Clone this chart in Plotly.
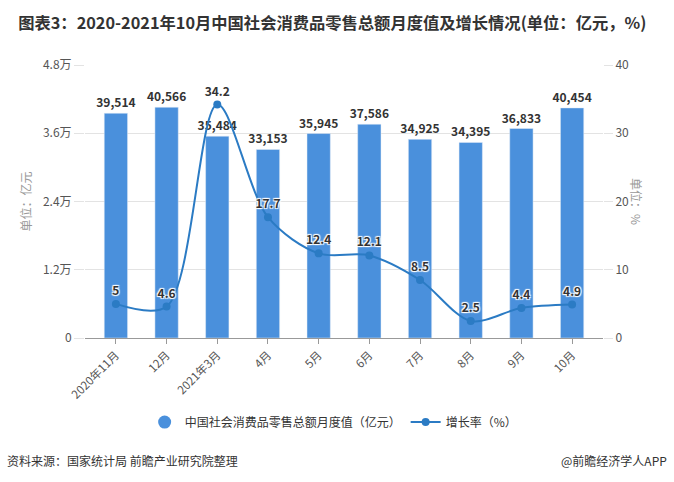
import plotly.graph_objects as go

# Data
months = ["2020年11月", "12月", "2021年3月", "4月", "5月", "6月", "7月", "8月", "9月", "10月"]
retail_sales = [39514, 40566, 35484, 33153, 35945, 37586, 34925, 34395, 36833, 40454]
growth_rate = [5, 4.6, 34.2, 17.7, 12.4, 12.1, 8.5, 2.5, 4.4, 4.9]

left_ticks = [0, 12000, 24000, 36000, 48000]
left_tick_text = ["0", "1.2万", "2.4万", "3.6万", "4.8万"]
right_ticks = [0, 10, 20, 30, 40]

FONT = "Noto Sans CJK SC"
BAR_COLOR = "#4a90dc"
LINE_COLOR = "#2b7bc4"

fig = go.Figure()

fig.add_trace(go.Bar(
    x=months, y=retail_sales, name="中国社会消费品零售总额月度值（亿元）",
    marker=dict(color=BAR_COLOR), width=0.46,
    text=[f"{v:,}" for v in retail_sales], textposition="outside",
    constraintext="none",
    textfont=dict(family=FONT, size=12, color="#333", weight="bold"),
    cliponaxis=False, showlegend=False,
))

fig.add_trace(go.Scatter(
    x=months, y=growth_rate, yaxis="y2", name="增长率（%）",
    mode="lines+markers+text",
    line=dict(color=LINE_COLOR, width=2, shape="spline", smoothing=0.9),
    marker=dict(size=8, color=LINE_COLOR),
    text=[str(v) for v in growth_rate], textposition="top center",
    textfont=dict(family=FONT, size=12, color="#333", weight="bold",
                  shadow="1px 1px 1px white, -1px -1px 1px white, 1px -1px 1px white, -1px 1px 1px white"),
    cliponaxis=False, showlegend=False,
))

# legend entries (circle for the bars, line+dot for the rate)
fig.add_trace(go.Scatter(
    x=[None], y=[None], mode="markers", name="中国社会消费品零售总额月度值（亿元）",
    marker=dict(size=13, color=BAR_COLOR),
))
fig.add_trace(go.Scatter(
    x=[None], y=[None], yaxis="y2", mode="lines+markers", name="增长率（%）",
    line=dict(color=LINE_COLOR, width=2), marker=dict(size=8, color=LINE_COLOR),
))

fig.update_layout(
    width=674, height=482,
    margin=dict(l=85, r=71, t=65, b=144),
    paper_bgcolor="white", plot_bgcolor="white",
    font=dict(family=FONT, color="#555", size=12),
    title=dict(
        text="<b>图表3：2020-2021年10月中国社会消费品零售总额月度值及增长情况(单位：亿元，%)</b>",
        x=0.027, xanchor="left", y=0.952, yanchor="middle",
        font=dict(family=FONT, size=16.3, color="#333"),
    ),
    xaxis=dict(
        tickangle=-45, tickfont=dict(size=11.5, color="#555"),
        showline=True, linecolor="#999", linewidth=1,
        ticks="outside", ticklen=5, tickcolor="#999",
        showgrid=False,
    ),
    yaxis=dict(
        range=[0, 48000], tickvals=left_ticks, ticktext=left_tick_text,
        tickfont=dict(size=12, color="#555"),
        showgrid=True, gridcolor="#e3e3e3", zeroline=False,
        ticks="outside", ticklen=10, tickcolor="#e3e3e3",
        title=dict(text="单位：亿元", font=dict(size=12, color="#999"), standoff=8),
    ),
    yaxis2=dict(
        range=[0, 40], tickvals=right_ticks, overlaying="y", side="right",
        tickfont=dict(size=12, color="#555"), showgrid=False, zeroline=False,
        ticks="outside", ticklen=9, tickcolor="#e3e3e3",
    ),
    legend=dict(
        orientation="h", x=0.48, xanchor="center", y=-0.308, yanchor="middle",
        font=dict(size=12, color="#333"), itemwidth=30,
    ),
    annotations=[
        dict(text="单位：%", textangle=90, x=1.085, y=0.5, xref="paper", yref="paper",
             showarrow=False, font=dict(size=12, color="#999")),
        dict(text="资料来源：国家统计局 前瞻产业研究院整理", x=-0.154, y=-0.45,
             xref="paper", yref="paper", xanchor="left", yanchor="middle",
             showarrow=False, font=dict(size=12, color="#333")),
        dict(text="@前瞻经济学人APP", x=1.127, y=-0.45,
             xref="paper", yref="paper", xanchor="right", yanchor="middle",
             showarrow=False, font=dict(size=12, color="#333")),
    ],
)

fig.write_html("out.html", config={"displayModeBar": False},
               post_script="document.body.style.margin='0';")
